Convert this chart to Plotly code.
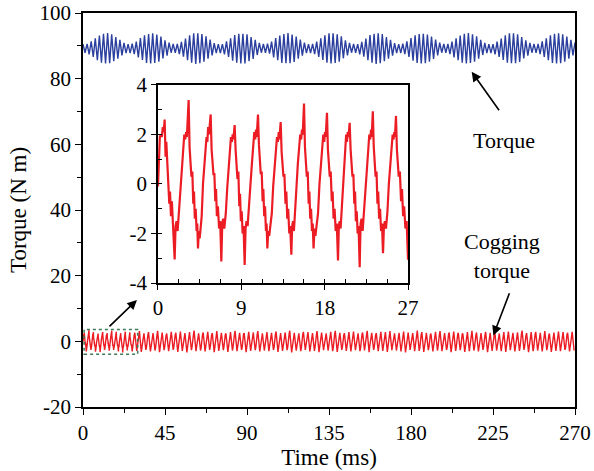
import numpy as np
import plotly.graph_objects as go

# ---------------- data ----------------
# Electromagnetic torque: alternating crest / valley values (N m), one sample every 1.125 ms
torque_peaks = [
    90.5,
    90.6, 91.4, 92.3, 93.1, 93.7, 93.9, 93.5, 92.7, 91.8, 90.9, 90.5,
    90.7, 91.3, 92.4, 93.2, 93.6, 93.8, 93.4, 92.8, 91.7, 91.0, 90.6,
    90.6, 91.2, 92.2, 93.2, 93.8, 93.8, 93.6, 92.9, 91.9, 90.8, 90.5,
    90.5, 91.4, 92.3, 93.3, 93.7, 93.7, 93.5, 92.7, 91.8, 90.9, 90.6,
    90.7, 91.3, 92.4, 93.1, 93.6, 93.9, 93.4, 92.8, 91.9, 91.0, 90.5,
    90.6, 91.3, 92.3, 93.2, 93.8, 93.8, 93.5, 92.9, 91.7, 90.9, 90.6,
    90.5, 91.2, 92.2, 93.3, 93.7, 93.8, 93.6, 92.7, 91.8, 90.8, 90.5,
    90.7, 91.4, 92.4, 93.2, 93.6, 93.7, 93.4, 92.8, 91.9, 91.0, 90.6,
    90.6, 91.3, 92.3, 93.1, 93.7, 93.9, 93.5, 92.9, 91.8, 90.9, 90.5,
    90.5, 91.3, 92.2, 93.2, 93.8, 93.8, 93.5, 92.7, 91.7, 90.9, 90.6,
    90.6, 91.4, 92.3, 93.2, 93.7, 93.8, 93.5, 92.8, 91.8, 91.0,
]
torque_valleys = [
    87.9, 87.4, 86.6, 85.6, 84.9, 84.6, 84.7, 85.3, 86.1, 87.1, 87.8,
    87.8, 87.5, 86.5, 85.7, 84.8, 84.6, 84.8, 85.2, 86.2, 87.0, 87.9,
    87.9, 87.5, 86.7, 85.6, 84.9, 84.5, 84.7, 85.2, 86.1, 87.1, 87.8,
    87.8, 87.4, 86.6, 85.5, 84.9, 84.6, 84.6, 85.3, 86.0, 87.2, 87.9,
    87.9, 87.6, 86.5, 85.6, 84.8, 84.7, 84.7, 85.1, 86.1, 87.0, 87.8,
    87.8, 87.5, 86.6, 85.7, 84.9, 84.6, 84.8, 85.2, 86.2, 87.1, 87.9,
    87.9, 87.4, 86.7, 85.6, 84.9, 84.5, 84.7, 85.3, 86.1, 87.0, 87.8,
    87.8, 87.5, 86.6, 85.5, 84.8, 84.6, 84.7, 85.2, 86.0, 87.1, 87.9,
    87.9, 87.5, 86.5, 85.6, 84.9, 84.6, 84.8, 85.2, 86.1, 87.2, 87.8,
    87.8, 87.4, 86.6, 85.7, 84.9, 84.7, 84.7, 85.1, 86.2, 87.0, 87.9,
    87.9, 87.5, 86.6, 85.6, 84.8, 84.6, 84.7, 85.2, 86.1, 87.1,
]
torque_step = 1.125  # ms between successive crest / valley samples

# Cogging torque, first 27 ms in detail (time in ms, value in N m)
cog_detail_t = [
    0.00, 0.10, 0.20, 0.30, 0.42, 0.52, 0.62, 0.72, 0.82, 0.90, 1.00, 1.12, 1.22, 1.30, 1.40, 1.50, 1.62, 1.80,
    1.90, 2.00, 2.12, 2.28, 2.43, 2.58, 2.72, 2.84, 2.94, 3.04, 3.12, 3.20, 3.31, 3.41, 3.51, 3.61, 3.71, 3.81, 3.89, 3.98, 4.07, 4.17, 4.24, 4.32,
    4.41, 4.50, 4.60, 4.72, 4.86, 5.00, 5.12, 5.24, 5.33, 5.42, 5.50, 5.58, 5.69, 5.79, 5.89, 5.99, 6.09, 6.19, 6.27, 6.36, 6.47, 6.60, 6.72, 6.84,
    6.94, 7.04, 7.16, 7.32, 7.47, 7.62, 7.76, 7.88, 7.98, 8.07, 8.14, 8.21, 8.28, 8.38, 8.48, 8.58, 8.68, 8.78, 8.86, 8.95, 9.04, 9.14, 9.24, 9.36,
    9.46, 9.56, 9.68, 9.84, 9.99, 10.14, 10.28, 10.40, 10.50, 10.59, 10.66, 10.73, 10.80, 10.90, 11.00, 11.10, 11.20, 11.30, 11.38, 11.47, 11.56, 11.66, 11.73, 11.81,
    11.91, 12.01, 12.13, 12.29, 12.44, 12.59, 12.73, 12.85, 12.95, 13.04, 13.11, 13.18, 13.25, 13.35, 13.45, 13.55, 13.65, 13.77, 13.86, 13.96, 14.06, 14.18, 14.28, 14.40,
    14.49, 14.58, 14.68, 14.82, 14.96, 15.10, 15.24, 15.36, 15.46, 15.55, 15.63, 15.70, 15.77, 15.87, 15.97, 16.07, 16.17, 16.27, 16.35, 16.44, 16.53, 16.63, 16.71, 16.80,
    16.90, 17.00, 17.12, 17.28, 17.44, 17.59, 17.73, 17.85, 17.95, 18.04, 18.11, 18.18, 18.25, 18.35, 18.45, 18.55, 18.65, 18.77, 18.86, 18.96, 19.07, 19.19, 19.31, 19.44,
    19.53, 19.62, 19.72, 19.84, 19.97, 20.10, 20.22, 20.32, 20.41, 20.49, 20.57, 20.64, 20.70, 20.80, 20.90, 21.00, 21.10, 21.20, 21.28, 21.37, 21.46, 21.56, 21.66, 21.78,
    21.88, 21.98, 22.10, 22.26, 22.41, 22.56, 22.70, 22.82, 22.92, 23.01, 23.08, 23.14, 23.20, 23.30, 23.40, 23.50, 23.60, 23.70, 23.78, 23.88, 23.98, 24.09, 24.19, 24.30,
    24.40, 24.50, 24.62, 24.78, 24.93, 25.08, 25.22, 25.34, 25.44, 25.52, 25.59, 25.65, 25.70, 25.80, 25.90, 26.00, 26.12, 26.25, 26.35, 26.47, 26.58, 26.72, 26.85, 27.00,
]
cog_detail_v = [
    -0.1, 0.9, 1.9, 2.0, 1.9, 2.3, 2.1, 2.6, 1.1, 1.7, 0.8, 0.3, -0.8, -0.3, -1.3, -0.7, -1.6, -3.05,
    -1.7, -1.5, -1.9, -1.1, -0.1, 0.6, 1.4, 2.0, 1.8, 2.1, 1.9, 2.5, 3.39, 1.5, 0.5, 0.3, 0.5, -0.8, -0.3, -1.4, -1.0, -1.9, -1.6, -2.6,
    -1.9, -2.2, -1.8, -1.3, 0.0, 0.8, 1.5, 1.9, 1.7, 2.3, 2.0, 2.4, 2.81, 1.4, 0.6, 0.4, 0.4, -0.7, -0.2, -1.3, -0.9, -1.8, -1.5, -3.13,
    -1.6, -1.4, -1.8, -1.2, -0.2, 0.6, 1.4, 1.9, 1.7, 2.0, 1.8, 2.2, 2.38, 1.4, 0.4, 0.2, 0.5, -0.9, -0.4, -1.5, -1.1, -2.0, -1.7, -3.27,
    -1.8, -1.5, -1.7, -1.0, 0.0, 0.8, 1.6, 2.1, 1.8, 2.2, 1.9, 2.4, 2.81, 1.6, 0.6, 0.4, 0.5, -0.7, -0.2, -1.3, -0.9, -1.9, -1.6, -2.6,
    -1.9, -2.1, -1.7, -1.2, -0.1, 0.7, 1.4, 1.9, 1.7, 2.1, 1.8, 2.2, 2.5, 1.3, 0.5, 0.3, 0.4, -0.8, -0.3, -1.4, -1.0, -2.0, -1.7, -2.86,
    -1.7, -1.5, -1.9, -1.2, -0.1, 0.8, 1.6, 2.0, 1.8, 2.2, 2.0, 2.6, 3.25, 1.5, 0.5, 0.3, 0.5, -0.8, -0.3, -1.4, -1.0, -1.9, -1.6, -2.6,
    -1.8, -2.1, -1.7, -1.2, 0.0, 0.7, 1.5, 2.0, 1.7, 2.1, 1.9, 2.3, 2.88, 1.4, 0.6, 0.3, 0.5, -0.7, -0.3, -1.4, -1.0, -1.9, -1.6, -3.09,
    -1.7, -1.5, -1.8, -1.0, -0.1, 0.8, 1.6, 2.0, 1.7, 2.1, 1.9, 2.2, 2.47, 1.4, 0.5, 0.3, 0.4, -0.8, -0.3, -1.5, -1.1, -2.0, -1.7, -3.36,
    -1.6, -1.4, -1.9, -1.1, -0.1, 0.7, 1.5, 2.0, 1.8, 2.2, 1.9, 2.5, 2.94, 1.5, 0.5, 0.3, 0.5, -0.8, -0.3, -1.4, -1.0, -1.9, -1.6, -2.8,
    -1.7, -1.5, -1.8, -1.1, 0.0, 0.8, 1.6, 2.0, 1.8, 2.1, 1.9, 2.4, 2.75, 1.4, 0.5, 0.3, 0.5, -0.7, -0.2, -1.3, -0.9, -1.8, -1.5, -3.06,
]

# Cogging torque after 27 ms, four readings per 2.5 ms period:
# shoulder before the crest, crest, valley, rebound level after the valley
cog_period = 2.5
cog_first_crest = 28.45   # ms
cog_crests = [
    2.6, 3.1, 2.4, 2.8, 2.5, 3.2, 2.7, 2.4, 2.9, 2.6,
    3.0, 2.5, 2.8, 3.3, 2.4, 2.7, 2.9, 2.5, 3.1, 2.6,
    2.4, 2.8, 3.2, 2.6, 2.5, 2.9, 2.7, 3.1, 2.4, 2.8,
    2.6, 3.0, 2.5, 2.7, 3.3, 2.6, 2.4, 2.9, 2.8, 2.5,
    3.1, 2.7, 2.4, 2.9, 3.2, 2.6, 2.5, 2.8, 3.0, 2.4,
    2.7, 3.2, 2.6, 2.5, 2.9, 2.8, 3.1, 2.4, 2.6, 3.0,
    2.7, 2.5, 3.3, 2.8, 2.6, 2.4, 2.9, 3.1, 2.5, 2.7,
    3.0, 2.6, 2.4, 2.8, 3.2, 2.7, 2.5, 2.9, 2.6, 3.1,
    2.4, 2.8, 3.0, 2.6, 2.7, 3.3, 2.5, 2.8, 2.9, 2.6,
    3.1, 2.4, 2.7, 3.0, 2.8, 2.6, 2.9,
]
cog_valleys = [
    -2.9, -3.2, -2.6, -3.1, -2.8, -3.3, -2.7, -3.0, -2.6, -3.2,
    -2.9, -3.4, -2.7, -3.0, -2.8, -3.1, -2.6, -3.3, -2.9, -2.7,
    -3.2, -2.8, -3.0, -2.6, -3.3, -2.9, -2.7, -3.1, -2.8, -3.0,
    -2.6, -3.2, -2.9, -2.7, -3.4, -2.8, -3.0, -2.6, -3.1, -2.9,
    -3.3, -2.7, -2.8, -3.0, -3.2, -2.6, -2.9, -3.1, -2.7, -3.0,
    -2.8, -3.3, -2.6, -3.0, -2.9, -3.2, -2.7, -2.8, -3.1, -3.4,
    -2.6, -3.0, -2.9, -3.2, -2.7, -3.1, -2.8, -3.0, -2.6, -3.3,
    -2.9, -2.7, -3.2, -3.0, -2.8, -3.1, -2.6, -3.3, -2.9, -2.8,
    -3.0, -3.2, -2.7, -3.1, -2.9, -2.6, -3.3, -3.0, -2.8, -3.1,
    -2.7, -3.2, -2.9, -3.0, -2.6, -3.1, -2.8,
]
cog_rebounds = [
    -1.7, -1.5, -1.8, -1.6, -1.9, -1.5, -1.7, -1.6, -1.8, -1.5,
    -1.6, -1.9, -1.7, -1.5, -1.8, -1.6, -1.7, -1.9, -1.5, -1.6,
    -1.8, -1.7, -1.5, -1.9, -1.6, -1.7, -1.8, -1.5, -1.6, -1.7,
    -1.9, -1.6, -1.5, -1.8, -1.7, -1.6, -1.9, -1.5, -1.7, -1.8,
    -1.6, -1.5, -1.7, -1.9, -1.6, -1.8, -1.5, -1.7, -1.6, -1.9,
    -1.7, -1.5, -1.8, -1.6, -1.7, -1.9, -1.5, -1.6, -1.8, -1.7,
    -1.5, -1.7, -1.9, -1.6, -1.8, -1.5, -1.7, -1.6, -1.9, -1.5,
    -1.8, -1.6, -1.7, -1.5, -1.9, -1.7, -1.6, -1.8, -1.5, -1.7,
    -1.6, -1.9, -1.5, -1.7, -1.8, -1.6, -1.5, -1.9, -1.7, -1.6,
    -1.8, -1.5, -1.7, -1.6, -1.9, -1.7,
]
cog_shoulders = [
    1.9, 2.1, 1.8, 2.0, 2.2, 1.9, 2.0, 1.8, 2.1, 1.9,
    2.0, 2.2, 1.8, 2.0, 1.9, 2.1, 1.8, 2.0, 2.2, 1.9,
    2.1, 1.8, 2.0, 1.9, 2.2, 2.0, 1.8, 2.1, 1.9, 2.0,
    1.8, 2.1, 2.0, 1.9, 2.2, 1.8, 2.0, 2.1, 1.9, 1.8,
    2.0, 2.2, 1.9, 1.8, 2.1, 2.0, 1.9, 2.2, 1.8, 2.0,
    2.1, 1.9, 1.8, 2.0, 2.2, 1.9, 2.1, 1.8, 2.0, 1.9,
    2.2, 1.8, 2.0, 2.1, 1.9, 2.0, 1.8, 2.2, 1.9, 2.1,
    1.8, 2.0, 2.2, 1.9, 2.0, 1.8, 2.1, 1.9, 2.0, 2.2,
    1.9, 1.8, 2.1, 2.0, 1.9, 2.2, 1.8, 2.0, 2.1, 1.9,
    2.0, 1.8, 2.2, 1.9, 2.1, 2.0, 1.8,
]

x_ticks = [0, 45, 90, 135, 180, 225, 270]
y_ticks = [-20, 0, 20, 40, 60, 80, 100]
inset_x_ticks = [0, 9, 18, 27]
inset_y_ticks = [-4, -2, 0, 2, 4]

# ---------------- assemble series ----------------
torque_v = np.empty(len(torque_peaks) + len(torque_valleys))
torque_v[0::2] = torque_peaks
torque_v[1::2] = torque_valleys
torque_t = np.arange(len(torque_v)) * torque_step

# per period: shoulder (crest - 0.35 ms), crest, valley (+1.05 ms), rebound (+1.4 ms)
n = len(cog_crests)
crest_t = cog_first_crest + cog_period * np.arange(n)
tail_t = np.empty(4 * n - 1)
tail_v = np.empty(4 * n - 1)
tail_t[0::4], tail_v[0::4] = crest_t - 0.35, cog_shoulders
tail_t[1::4], tail_v[1::4] = crest_t, cog_crests
tail_t[2::4], tail_v[2::4] = crest_t + 1.05, cog_valleys
tail_t[3::4], tail_v[3::4] = (crest_t + 1.4)[:-1], cog_rebounds
cog_t = np.concatenate([cog_detail_t, tail_t])
cog_v = np.concatenate([cog_detail_v, tail_v])

BLUE = "#2b3f9e"
RED = "#ec1c24"
FONT = "Times New Roman, Liberation Serif, serif"

fig = go.Figure()
fig.add_trace(go.Scatter(x=torque_t, y=torque_v, mode="lines",
                         line=dict(color=BLUE, width=1.4), showlegend=False))
fig.add_trace(go.Scatter(x=cog_t, y=cog_v, mode="lines",
                         line=dict(color=RED, width=1.4), showlegend=False))
fig.add_trace(go.Scatter(x=cog_detail_t, y=cog_detail_v, mode="lines",
                         line=dict(color=RED, width=2.2), showlegend=False,
                         xaxis="x2", yaxis="y2"))

axis_common = dict(showline=True, linecolor="black", linewidth=1.6, mirror=True,
                   ticks="outside", tickcolor="black", tickwidth=1.4,
                   showgrid=False, zeroline=False, automargin=False,
                   tickfont=dict(family=FONT, size=21, color="black"))

fig.update_layout(
    width=594, height=471,
    margin=dict(l=83, r=19, t=13, b=64),
    paper_bgcolor="white", plot_bgcolor="white",
    font=dict(family=FONT, color="black"),
    xaxis=dict(range=[0, 270], tickvals=x_ticks, ticklen=6,
               minor=dict(dtick=22.5, ticklen=4, ticks="outside", tickcolor="black"),
               title=dict(text="Time (ms)", font=dict(family=FONT, size=23), standoff=0),
               **axis_common),
    yaxis=dict(range=[-20, 100], tickvals=y_ticks, ticklen=6,
               ticktext=["-20", "0", "20", "40", "60", "80", "100"],
               minor=dict(dtick=10, ticklen=4, ticks="outside", tickcolor="black"),
               title=dict(text="Torque (N m)", font=dict(family=FONT, size=23), standoff=6),
               **axis_common),
    xaxis2=dict(domain=[0.1524, 0.6606], anchor="y2", range=[0, 27],
                tickvals=inset_x_ticks, ticklen=5,
                minor=dict(dtick=2.25, ticklen=4, ticks="inside", tickcolor="black"),
                **axis_common),
    yaxis2=dict(domain=[0.3147, 0.8173], anchor="x2", range=[-4, 4],
                tickvals=inset_y_ticks, ticktext=["-4", "-2", "0", "2", "4"], ticklen=5,
                minor=dict(dtick=1, ticklen=4, ticks="inside", tickcolor="black"),
                **axis_common),
)

# zoom region marker on the cogging trace
fig.add_shape(type="rect", xref="x", yref="y", x0=0.6, x1=30, y0=-3.9, y1=3.6,
              line=dict(color="#3d7a55", width=1.5, dash="dot"))

arrow = dict(showarrow=True, arrowhead=2, arrowsize=1.2, arrowwidth=1.6,
             arrowcolor="black", xref="x", yref="y", axref="x", ayref="y", text="")
fig.add_annotation(x=29.6, y=12.6, ax=13.7, ay=4.1, **arrow)
fig.add_annotation(x=213.3, y=82.1, ax=228.9, ay=69.9, **arrow)
fig.add_annotation(x=225.2, y=1.8, ax=234.3, ay=15.1, **arrow)

fig.add_annotation(x=230.8, y=61.3, xref="x", yref="y", text="Torque",
                   showarrow=False, font=dict(family=FONT, size=22, color="black"))
fig.add_annotation(x=229.8, y=26.0, xref="x", yref="y", text="Cogging<br>torque",
                   showarrow=False, font=dict(family=FONT, size=22, color="black"))

fig.write_html("out.html")
